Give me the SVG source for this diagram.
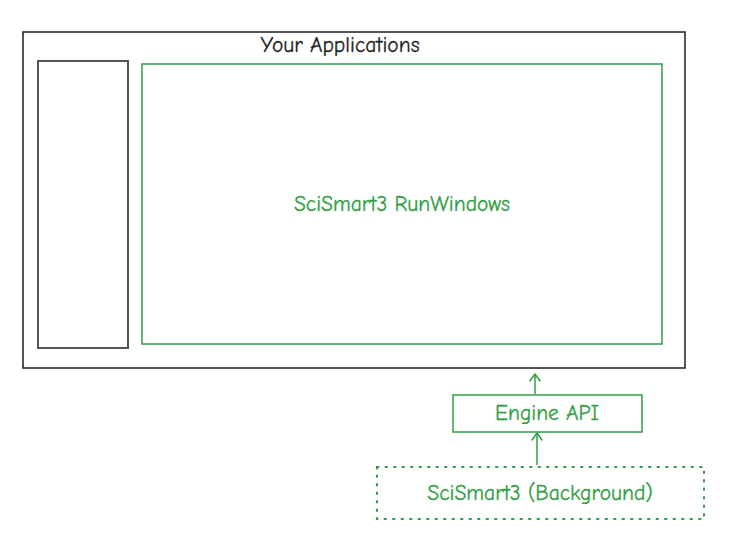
<svg xmlns="http://www.w3.org/2000/svg" width="730" height="535" viewBox="0 0 730 535">
<style>
  text { font-family: "Comic Neue", "Liberation Sans", "DejaVu Sans", sans-serif; text-anchor: middle; dominant-baseline: central; font-size: 21.5px; }
  .green { fill: none; stroke: #2f9e44; stroke-width: 1.5; }
  .gtext { fill: #2f9e44; stroke: #2f9e44; stroke-width: 0.3; }
</style>
<defs>
  <marker id="arr" viewBox="0 0 14 14" refX="13" refY="7" markerWidth="14" markerHeight="14" markerUnits="userSpaceOnUse" orient="auto">
    <path d="M6 2 L13 7 L6 12" fill="none" stroke="#2f9e44" stroke-width="1.5" stroke-linecap="round" stroke-linejoin="round"/>
  </marker>
</defs>
<rect width="730" height="535" fill="#ffffff"/>
<g id="your-applications">
  <rect x="23" y="32" width="662" height="336" fill="none" stroke="#1e1e1e" stroke-width="1.5"/>
  <text x="340" y="45" fill="#1e1e1e" stroke="#1e1e1e" stroke-width="0.3">Your Applications</text>
</g>
<g id="side-panel">
  <rect x="38" y="61" width="90" height="287" fill="none" stroke="#555555" stroke-width="2"/>
</g>
<g id="runwindows">
  <rect x="142" y="64" width="520" height="280" class="green"/>
  <text x="402" y="204" class="gtext">SciSmart3 RunWindows</text>
</g>
<g id="engine-api">
  <rect x="453" y="395" width="189" height="37" class="green"/>
  <text x="547" y="413" class="gtext">Engine API</text>
</g>
<g id="background">
  <rect x="377" y="467" width="327" height="52" fill="none" stroke="#2f9e44" stroke-width="2" stroke-dasharray="1.5 7" stroke-linecap="round"/>
  <text x="540" y="493" class="gtext">SciSmart3 (Background)</text>
</g>
<g id="connectors">
  <line x1="535" y1="394" x2="535" y2="374" class="green" marker-end="url(#arr)"/>
  <line x1="537" y1="465" x2="537" y2="433" class="green" marker-end="url(#arr)"/>
</g>
</svg>
